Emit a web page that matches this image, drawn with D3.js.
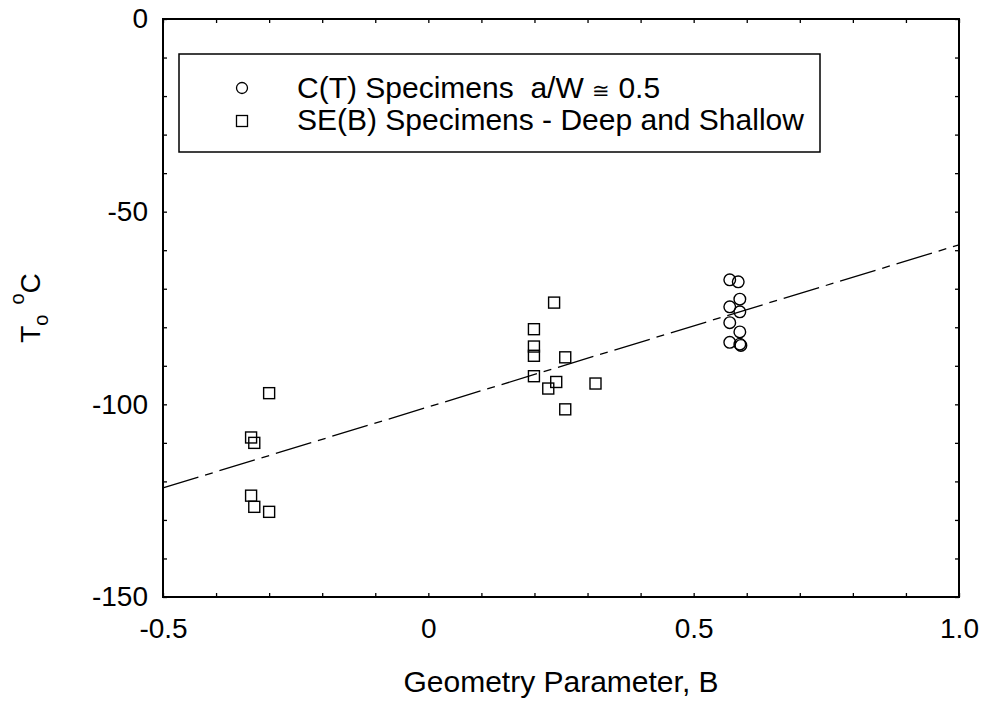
<!DOCTYPE html>
<html>
<head>
<meta charset="utf-8">
<script src="https://cdn.jsdelivr.net/npm/d3@7"></script>
<style>
  body { margin: 0; background: #fff; }
  svg { font-family: "Liberation Sans", Arial, sans-serif; }
  .frame { fill: none; stroke: #000; stroke-width: 2; }
  .axis path { display: none; }
  .axis line { stroke: #000; stroke-width: 1.3; }
  .axis text { font-size: 28px; fill: #000; }
</style>
</head>
<body>
<script>
(function(){

    //C(T) specimens, a/W about 0.5
    var ctB = [0.568, 0.584, 0.587, 0.568, 0.587, 0.568, 0.587, 0.568, 0.587, 0.589];
    var ctT = [-67.7, -68.2, -72.7, -74.7, -76.0, -78.8, -81.2, -83.9, -84.4, -84.7];

    //SE(B) specimens, deep and shallow
    var sebB = [-0.300, -0.334, -0.328, -0.334, -0.328, -0.300,
                0.237, 0.199, 0.199, 0.199, 0.258, 0.199, 0.241, 0.226, 0.315, 0.258];
    var sebT = [-97.1, -108.6, -110.0, -123.7, -126.6, -127.9,
                -73.6, -80.5, -85.0, -87.4, -87.8, -92.7, -94.2, -95.9, -94.6, -101.3];

    //fitted line end points
    var fitB = [-0.5, 1.0];
    var fitT = [-121.7, -58.6];

    //tick values and labels
    var xTickVals = [-0.5, 0, 0.5, 1.0];
    var xTickLabels = ["-0.5", "0", "0.5", "1.0"];
    var yTickVals = [0, -50, -100, -150];
    var yTickLabels = ["0", "-50", "-100", "-150"];

    var width = 982, height = 701;
    var left = 163, right = 959, top = 19, bottom = 597;

    var svg = d3.select("body")
        .append("svg")
        .attr("width", width)
        .attr("height", height);

    var x = d3.scaleLinear().domain([-0.5, 1.0]).range([left, right]);
    var y = d3.scaleLinear().domain([-150, 0]).range([bottom, top]);

    var xMinor = d3.range(-5, 11).map(function(i){ return i / 10; });
    var yMinor = d3.range(-15, 1).map(function(i){ return i * 10; });

    //inward ticks on all four sides
    svg.append("g").attr("class", "axis")
        .attr("transform", "translate(0," + bottom + ")")
        .call(d3.axisBottom(x).tickValues(xMinor).tickSize(-4).tickFormat(""));
    svg.append("g").attr("class", "axis")
        .attr("transform", "translate(0," + top + ")")
        .call(d3.axisTop(x).tickValues(xMinor).tickSize(-4).tickFormat(""));
    svg.append("g").attr("class", "axis")
        .attr("transform", "translate(" + left + ",0)")
        .call(d3.axisLeft(y).tickValues(yMinor).tickSize(-4).tickFormat(""));
    svg.append("g").attr("class", "axis")
        .attr("transform", "translate(" + right + ",0)")
        .call(d3.axisRight(y).tickValues(yMinor).tickSize(-4).tickFormat(""));

    //tick labels
    svg.append("g").attr("class", "axis")
        .attr("transform", "translate(0," + bottom + ")")
        .call(d3.axisBottom(x).tickValues(xTickVals).tickSize(0).tickPadding(21)
            .tickFormat(function(d, i){ return xTickLabels[i]; }));
    svg.append("g").attr("class", "axis")
        .attr("transform", "translate(" + left + ",0)")
        .call(d3.axisLeft(y).tickValues(yTickVals).tickSize(0).tickPadding(15)
            .tickFormat(function(d, i){ return yTickLabels[i]; }));

    //plot frame
    svg.append("rect")
        .attr("class", "frame")
        .attr("x", left)
        .attr("y", top)
        .attr("width", right - left)
        .attr("height", bottom - top);

    //fitted line, dash dot
    var line = d3.line()
        .x(function(d){ return x(d[0]); })
        .y(function(d){ return y(d[1]); });
    svg.append("path")
        .datum(d3.zip(fitB, fitT))
        .attr("d", line)
        .attr("fill", "none")
        .attr("stroke", "#000")
        .attr("stroke-width", 1.3)
        .attr("stroke-dasharray", "37,7,8,7");

    //SE(B) squares
    var sq = 11;
    svg.selectAll(".seb")
        .data(d3.zip(sebB, sebT))
        .enter()
        .append("rect")
        .attr("class", "seb")
        .attr("x", function(d){ return x(d[0]) - sq / 2; })
        .attr("y", function(d){ return y(d[1]) - sq / 2; })
        .attr("width", sq)
        .attr("height", sq)
        .attr("fill", "none")
        .attr("stroke", "#000")
        .attr("stroke-width", 1.4);

    //C(T) circles
    svg.selectAll(".ct")
        .data(d3.zip(ctB, ctT))
        .enter()
        .append("circle")
        .attr("class", "ct")
        .attr("cx", function(d){ return x(d[0]); })
        .attr("cy", function(d){ return y(d[1]); })
        .attr("r", 5.8)
        .attr("fill", "none")
        .attr("stroke", "#000")
        .attr("stroke-width", 1.4);

    //legend
    var legend = svg.append("g");
    legend.append("rect")
        .attr("x", 179).attr("y", 54)
        .attr("width", 641).attr("height", 98)
        .attr("fill", "#fff")
        .attr("stroke", "#000")
        .attr("stroke-width", 1.5);
    legend.append("circle")
        .attr("cx", 242).attr("cy", 88).attr("r", 5.5)
        .attr("fill", "none").attr("stroke", "#000").attr("stroke-width", 1.3);
    legend.append("rect")
        .attr("x", 242 - 5.5).attr("y", 121 - 5.5)
        .attr("width", 11).attr("height", 11)
        .attr("fill", "none").attr("stroke", "#000").attr("stroke-width", 1.3);
    var t1 = legend.append("text")
        .attr("x", 297).attr("y", 98)
        .style("font-size", "30px")
        .style("white-space", "pre");
    t1.append("tspan").text("C(T) Specimens  a/W ");
    t1.append("tspan").style("font-size", "21px").text("\u2245");
    t1.append("tspan").text(" 0.5");
    legend.append("text")
        .attr("x", 297).attr("y", 130)
        .style("font-size", "30px")
        .text("SE(B) Specimens - Deep and Shallow");

    //axis titles
    svg.append("text")
        .attr("x", (left + right) / 2)
        .attr("y", 692)
        .attr("text-anchor", "middle")
        .style("font-size", "30px")
        .text("Geometry Parameter, B");

    var yl = svg.append("text")
        .attr("transform", "translate(40," + (top + bottom) / 2 + ") rotate(-90)")
        .attr("text-anchor", "middle")
        .style("font-size", "28px");
    yl.append("tspan").text("T");
    yl.append("tspan").attr("dy", 8).style("font-size", "20px").text("o");
    yl.append("tspan").attr("dx", 10).attr("dy", -24).style("font-size", "20px").text("o");
    yl.append("tspan").attr("dy", 16).text("C");

})();
</script>
</body>
</html>
